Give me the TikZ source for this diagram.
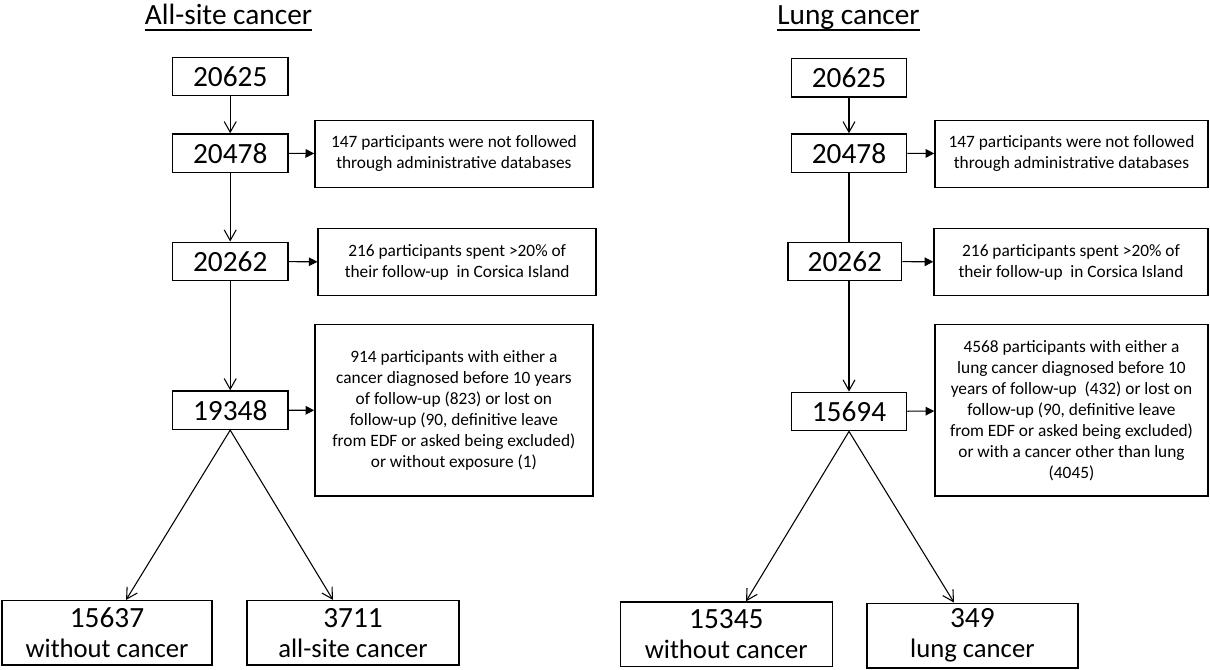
\documentclass[tikz,border=0pt]{standalone}
\usepackage{fontspec}
\setmainfont{Carlito}
\usepackage{tikz}
\usetikzlibrary{arrows.meta,positioning,calc}
\tikzstyle{numbox} = [draw, line width=1.1pt, minimum width=86.4pt, minimum height=28.8pt, inner sep=0pt, font=\fontsize{22}{26}\selectfont]
\tikzstyle{sidebox} = [draw, line width=1.1pt, minimum width=208.5pt, minimum height=50.25pt, inner sep=0pt, align=center, font=\fontsize{13}{15.75}\selectfont]
\tikzstyle{endbox} = [draw, line width=1.1pt, minimum width=157.5pt, minimum height=48.4pt, inner sep=0pt, align=center, font=\fontsize{22}{24.75}\selectfont]
\tikzstyle{ttl} = [inner sep=0pt, anchor=base, font=\fontsize{22}{26}\selectfont]
\tikzstyle{down} = [line width=0.8pt, -{Straight Barb[length=8pt,width=9pt]}]
\tikzstyle{side} = [line width=0.8pt, -{Triangle[length=6.5pt,width=6.5pt]}]
\newcommand{\lbl}{\fontsize{20}{24}\selectfont}

\begin{document}
\begin{tikzpicture}[x=0.75pt, y=-0.75pt]
    \useasboundingbox (0,0) rectangle (1210,669);

    % Titles
    \node[ttl] (ttlA) at (228.5,24) {All-site cancer};
    \node[ttl] (ttlL) at (848.5,24) {Lung cancer};
    \draw[line width=1.5pt] ([yshift=-4.6pt]ttlA.base west) -- ([yshift=-4.6pt]ttlA.base east);
    \draw[line width=1.5pt] ([yshift=-4.6pt]ttlL.base west) -- ([yshift=-4.6pt]ttlL.base east);

    % All-site cancer
    \node[numbox] (n1) at (230.2,76.5) {20625};
    \node[numbox] (n2) at (230.2,153.2) {20478};
    \node[numbox] (n3) at (230.2,261.5) {20262};
    \node[numbox] (n4) at (230.2,410.2) {19348};
    \node[sidebox] (s1) at (453.9,153.8) {147 participants were not followed\\through administrative databases};
    \node[sidebox] (s2) at (457.2,262.2) {216 participants spent >20\% of\\their follow-up~ in Corsica Island};
    \node[sidebox, minimum height=128.5pt] (s3) at (453.9,410.4) {914 participants with either a\\cancer diagnosed before 10 years\\of follow-up (823) or lost on\\follow-up (90, definitive leave\\from EDF or asked being excluded)\\or without exposure (1)};
    \node[endbox] (b1) at (107,632.9) {15637\\[-2pt]{\lbl without cancer}};
    \node[endbox, minimum width=159pt] (b2) at (353,632.9) {3711\\[-2pt]{\lbl all-site cancer}};

    \draw[down] (n1) -- (n2);
    \draw[down] (n2) -- (n3);
    \draw[down] (n3) -- (n4);
    \draw[side] (n2) -- (s1);
    \draw[side] (n3) -- (s2);
    \draw[side] (n4) -- (s3);
    \draw[down] (n4.south) -- ([xshift=14.3pt]b1.north);
    \draw[down] (n4.south) -- ([xshift=-15pt]b2.north);

    % Lung cancer
    \node[numbox] (m1) at (849,77.7) {20625};
    \node[numbox] (m2) at (849,153.2) {20478};
    \node[numbox, minimum width=85.2pt] (m3) at (844.8,261.5) {20262};
    \node[numbox] (m4) at (849,411.5) {15694};
    \node[sidebox, minimum width=204.8pt] (t1) at (1071.5,153.8) {147 participants were not followed\\through administrative databases};
    \node[sidebox, minimum width=205.5pt] (t2) at (1071,262.2) {216 participants spent >20\% of\\their follow-up~ in Corsica Island};
    \node[sidebox, minimum width=204.8pt, minimum height=128.5pt] (t3) at (1071.5,410.4) {4568 participants with either a\\lung cancer diagnosed before 10\\years of follow-up~ (432) or lost on\\follow-up (90, definitive leave\\from EDF or asked being excluded)\\or with a cancer other than lung\\(4045)};
    \node[endbox, minimum width=159pt] (c1) at (726.3,634.3) {15345\\[-2pt]{\lbl without cancer}};
    \node[endbox, minimum width=158.1pt] (c2) at (972.4,635.5) {349\\[-2pt]{\lbl lung cancer}};

    \draw[down] (m1) -- (m2);
    \draw[line width=0.8pt] (m2.south) -- (m2.south |- m3.north);
    \draw[down] (m4.north |- m3.south) -- (m4.north);
    \draw[side] (m2) -- (t1);
    \draw[side] (m3) -- (t2);
    \draw[side] (m4) -- (t3);
    \draw[down] (m4.south) -- ([xshift=14.8pt]c1.north);
    \draw[down] (m4.south) -- ([xshift=-13.8pt]c2.north);
\end{tikzpicture}
\end{document}
